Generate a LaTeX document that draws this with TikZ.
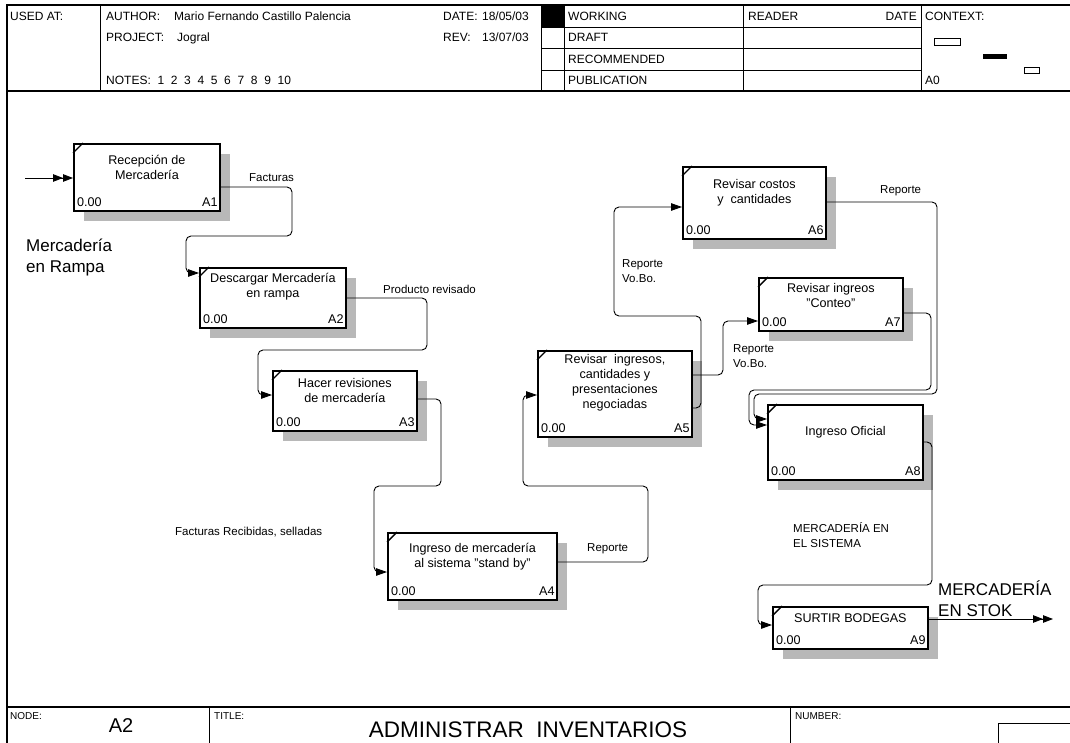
\documentclass[tikz,border=0pt]{standalone}
\usepackage{fontspec}
\setmainfont{Liberation Sans}
\usetikzlibrary{arrows.meta,calc,shadows}
\definecolor{shadowgray}{gray}{0.72}

\tikzset{
  frame/.style={line width=1.1pt},
  grid/.style={line width=0.9pt},
  idef/.style={draw, line width=1.8pt, fill=white, inner sep=0pt, anchor=north west,
    general shadow={fill=shadowgray, shadow xshift=10pt, shadow yshift=-10pt}},
  tick/.style={line width=1.4pt},
  boxtext/.style={font=\fontsize{12.6}{15}\selectfont, align=center, inner sep=0pt},
  lbl/.style={font=\fontsize{12.6}{15}\selectfont, inner sep=0pt, text height=9pt, text depth=0pt},
  note/.style={font=\fontsize{11.5}{15}\selectfont, inner sep=0pt, align=left, anchor=west},
  hdr/.style={font=\fontsize{12}{13}\selectfont, inner sep=0pt, text height=8.6pt, text depth=0pt, anchor=west},
  small/.style={font=\fontsize{10}{12}\selectfont, inner sep=0pt, text height=7.2pt, text depth=0pt, anchor=west},
  big/.style={font=\fontsize{17}{21}\selectfont, inner sep=0pt, align=left, anchor=west},
  flow/.style={line width=0.9pt, rounded corners=5pt, -{Triangle[length=11pt,width=7.5pt]}},
  flowdbl/.style={line width=0.9pt, -{Triangle[length=10pt,width=7.5pt]Triangle[length=10pt,width=7.5pt]}},
}

% IDEF0 activity box: name, x, y, width, height, text, text offset from top, number
\newcommand{\idefbox}[8]{%
  \node[idef, minimum width=#4pt, minimum height=#5pt] (#1) at (#2,#3) {};
  \draw[tick] ($(#1.north west)+(0,10)$) -- ($(#1.north west)+(10,0)$);
  \node[boxtext] (#1-txt) at ($(#1.north)+(0,#7)$) {#6};
  \node[lbl, anchor=west] (#1-cost) at ($(#1.south west)+(4,-10)$) {0.00};
  \node[lbl, anchor=east] (#1-id) at ($(#1.south east)+(-3,-10)$) {#8};
}

\begin{document}
\begin{tikzpicture}[x=1pt,y=-1pt]
\useasboundingbox (0,0) rectangle (1070,743);

% ---------- form frame ----------
\draw[frame] (7,743) -- (7,5) -- (1070,5);
\draw[frame] (7,91) -- (1070,91);
\draw[frame] (7,707) -- (1070,707);

% header grid
\foreach \x in {100,541,564,743,921} \draw[grid] (\x,5) -- (\x,91);
\foreach \y in {27,48,70} \draw[grid] (541,\y) -- (921,\y);
\fill (541,5) rectangle (564,27);

% header texts
\node[hdr] (usedat) at (10,16) {USED AT:};
\node[hdr] (author) at (106,16) {AUTHOR:};
\node[hdr] (authorname) at (174,16) {Mario Fernando Castillo Palencia};
\node[hdr] (project) at (106,37) {PROJECT:};
\node[hdr] (projectname) at (177,37) {Jogral};
\node[hdr] (notes) at (106,80) {NOTES:\ \ 1\ \ 2\ \ 3\ \ 4\ \ 5\ \ 6\ \ 7\ \ 8\ \ 9\ \ 10};
\node[hdr] (date) at (443,16) {DATE:};
\node[hdr, anchor=east] (dateval) at (529,16) {18/05/03};
\node[hdr] (rev) at (443,37) {REV:};
\node[hdr, anchor=east] (revval) at (529,37) {13/07/03};
\node[hdr] (working) at (568,16) {WORKING};
\node[hdr] (draft) at (568,37) {DRAFT};
\node[hdr] (recommended) at (568,59) {RECOMMENDED};
\node[hdr] (publication) at (568,80) {PUBLICATION};
\node[hdr] (reader) at (748,16) {READER};
\node[hdr, anchor=east] (readerdate) at (917,16) {DATE};
\node[hdr] (context) at (925,16) {CONTEXT:};
\node[hdr] (azero) at (925,80) {A0};

% context thumbnail
\draw[line width=0.8pt] (934,38) rectangle (960,45);
\fill (983,54) rectangle (1007,59);
\draw[line width=0.8pt] (1024,67) rectangle (1039,73);

% footer
\draw[grid] (209,707) -- (209,743);
\draw[grid] (790,707) -- (790,743);
\draw[grid] (998,744) |- (1071,723);
\node[small] (nodelbl) at (10,716) {NODE:};
\node[small] (titlelbl) at (214,716) {TITLE:};
\node[small] (numberlbl) at (795,716) {NUMBER:};
\node[font=\fontsize{20}{24}\selectfont, inner sep=0pt] (nodeval) at (121,726) {A2};
\node[font=\fontsize{22.5}{26}\selectfont, inner sep=0pt] (title) at (528,730) {ADMINISTRAR\ \ INVENTARIOS};

% ---------- activity boxes ----------
\idefbox{A1}{73}{143}{146}{67}{Recepción de\\Mercadería}{24}{A1}
\idefbox{A2}{199}{267}{146}{60}{Descargar Mercadería\\en rampa}{20}{A2}
\idefbox{A3}{272}{370}{144}{60}{Hacer revisiones\\de mercadería}{20}{A3}
\idefbox{A4}{387}{532}{169}{67}{Ingreso de mercadería\\al sistema "stand by"}{25}{A4}
\idefbox{A5}{537}{350}{154}{86}{Revisar\ \ ingresos,\\cantidades y\\presentaciones\\negociadas}{33}{A5}
\idefbox{A6}{682}{166}{143}{72}{Revisar costos\\y\ \ cantidades}{27}{A6}
\idefbox{A7}{758}{277}{144}{53}{Revisar ingreos\\"Conteo"}{18}{A7}
\idefbox{A8}{767}{404}{155}{75}{Ingreso Oficial}{28}{A8}
\idefbox{A9}{772}{606}{155}{42}{SURTIR BODEGAS}{12}{A9}

% ---------- arrows ----------
\coordinate (in1) at (25,178);
\draw[flowdbl] (in1) -- ($(A1.north west)+(0,35)$);

\draw[flow] ($(A1.north east)+(0,44)$) -| (292,236) -| (186,273) -- ($(A2.north west)+(0,6)$);
\draw[flow] ($(A2.north east)+(0,31)$) -| (427,350) -| (258,395) -- ($(A3.north west)+(0,25)$);
\draw[flow] ($(A3.north east)+(0,29)$) -| (441,486) -| (374,572) -- ($(A4.north west)+(0,40)$);
\draw[flow] ($(A4.north east)+(0,30)$) -| (648,486) -| (523,395) -- ($(A5.north west)+(0,45)$);
\draw[flow] ($(A5.north east)+(0,58)$) -| (701,316) -| (614,207) -- ($(A6.north west)+(0,41)$);
\draw[flow] ($(A5.north east)+(0,25)$) -| (723,321) -- ($(A7.north west)+(0,44)$);
\draw[flow] ($(A6.north east)+(0,36)$) -| (937,394) -| (754,419) -- ($(A8.north west)+(0,15)$);
\draw[flow] ($(A7.north east)+(0,36)$) -| (931,390) -| (749,425) -- ($(A8.north west)+(0,21)$);
\draw[flow] ($(A8.north east)+(0,38)$) -| (932,585) -| (758,625) -- ($(A9.north west)+(0,19)$);

\coordinate (out9) at (1053,619);
\draw[flowdbl] ($(A9.north east)+(0,13)$) -- (out9);

% ---------- arrow labels ----------
\node[note] (l-fact) at (249,178) {Facturas};
\node[note] (l-prod) at (383,289) {Producto revisado};
\node[note] (l-factrec) at (175,532) {Facturas Recibidas, selladas};
\node[note] (l-rep4) at (587,549) {Reporte};
\node[note] (l-rep5a) at (622,271) {Reporte\\Vo.Bo.};
\node[note] (l-rep5b) at (733,356) {Reporte\\Vo.Bo.};
\node[note] (l-rep6) at (880,191) {Reporte};
\node[note] (l-merc) at (793,535) {MERCADERÍA EN\\EL SISTEMA};
\node[big] (l-rampa) at (26,258) {Mercadería\\en Rampa};
\node[big] (l-stok) at (938,599) {MERCADERÍA\\EN STOK};

\end{tikzpicture}
\end{document}
